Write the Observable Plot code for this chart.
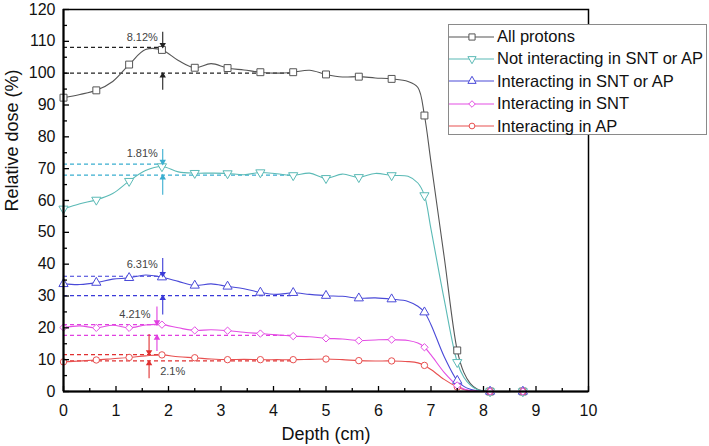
<!DOCTYPE html>
<html>
<head>
<meta charset="utf-8">
<script src="https://cdn.jsdelivr.net/npm/d3@7"></script>
<script src="https://cdn.jsdelivr.net/npm/@observablehq/plot@0.6"></script>
<style>
  html, body { margin: 0; padding: 0; background: #fff; }
  #wrap { position: relative; width: 709px; height: 446px; font-family: "Liberation Sans", Arial, sans-serif; }
  #legend { position: absolute; left: 448px; top: 24px; width: 259px; height: 111px; background: #fff; border: 1px solid #8a8a8a; box-sizing: border-box; }
  .row { position: absolute; left: 0; height: 22px; display: flex; align-items: center; }
  .row span { font-size: 16.5px; color: #111; margin-left: 3px; white-space: nowrap; }
</style>
</head>
<body>
<div id="wrap"></div>
<script>
// ---- data ----
const depth = [0, 0.3125, 0.625, 0.9375, 1.25, 1.5625, 1.875, 2.1875, 2.5, 2.8125, 3.125, 3.4375, 3.75, 4.0625, 4.375, 4.6875, 5, 5.3125, 5.625, 5.9375, 6.25, 6.5625, 6.75, 6.875, 7.0, 7.25, 7.5, 7.625, 7.75, 7.875, 8.0, 8.125, 8.75, 9.3];
const allProtons        = [92.3, 93.3, 94.6, 97.4, 102.7, 107.4, 107.3, 104.0, 101.7, 103.0, 101.6, 101.0, 100.3, 100.0, 100.3, 100.9, 99.6, 98.8, 98.9, 98.5, 98.2, 97.4, 95.5, 86.7, 72.0, 42.4, 12.9, 6.0, 2.5, 0.8, 0.2, 0, 0, 0];
const notInteracting    = [57.4, 59.0, 60.2, 62.2, 66.1, 69.4, 70.7, 69.0, 68.6, 68.6, 68.5, 68.1, 68.8, 68.4, 67.9, 68.6, 67.0, 68.3, 67.3, 68.5, 67.9, 67.6, 65.5, 61.6, 51.0, 29.0, 9.2, 4.5, 2.0, 0.6, 0.1, 0, 0, 0];
const interactingSntAp  = [33.8, 33.6, 34.2, 35.3, 35.7, 36.6, 35.9, 34.6, 33.3, 33.8, 33.0, 32.3, 31.1, 30.5, 31.0, 30.5, 30.1, 29.9, 29.3, 29.4, 29.0, 28.3, 26.8, 24.9, 21.0, 11.0, 3.4, 1.6, 0.7, 0.2, 0, 0, 0, 0];
const interactingSnt    = [20.1, 20.6, 20.0, 20.8, 20.0, 20.9, 21.0, 20.0, 19.2, 19.4, 19.1, 18.6, 18.2, 17.8, 17.4, 17.2, 16.7, 16.5, 16.0, 16.2, 16.3, 16.0, 15.2, 13.9, 11.5, 6.0, 1.9, 0.8, 0.3, 0.1, 0, 0, 0, 0];
const interactingAp     = [9.3, 9.6, 9.9, 10.3, 10.7, 11.2, 11.5, 10.9, 10.6, 10.2, 10.0, 10.1, 10.0, 10.0, 10.0, 10.1, 10.2, 10.0, 9.7, 9.6, 9.6, 9.4, 9.0, 8.2, 6.9, 3.8, 1.4, 0.6, 0.2, 0.05, 0, 0, 0, 0];
const markerDepths = [0, 0.625, 1.25, 1.875, 2.5, 3.125, 3.75, 4.375, 5, 5.625, 6.25, 6.875, 7.5, 8.125, 8.75];

const seriesNames = ["All protons", "Not interacting in SNT or AP", "Interacting in SNT or AP", "Interacting in SNT", "Interacting in AP"];
const seriesValues = [allProtons, notInteracting, interactingSntAp, interactingSnt, interactingAp];
const seriesColors = ["#555555", "#5bbab6", "#4a4ad8", "#e44ee4", "#e85050"];
const seriesSymbols = ["square", "triangle", "triangle", "diamond2", "circle"];
const seriesRotate = [0, 180, 0, 0, 0];
const seriesR = [3.9, 3.4, 3.4, 3.3, 3.2];

// annotation data (per series): upper dashed level, lower dashed level, arrow x, arrow tails, label
const upperLevel = [108.1, 71.4, 36.2, 21.0, 11.6];
const lowerLevel = [100.0, 68.0, 30.1, 17.6, 9.6];
const upperEnd = [1.9, 1.9, 1.9, 1.9, 1.9];
const lowerEnd = [4.35, 4.4, 4.4, 4.4, 4.4];
const arrowX = [1.89, 1.89, 1.89, 1.78, 1.63];
const downFrom = [113.0, 76.2, 41.9, 26.7, 18.1];
const upFrom = [94.8, 61.8, 24.2, 12.7, 4.2];
const pctLabels = ["8.12%", "1.81%", "6.31%", "4.21%", "2.1%"];
const labelX = [1.5, 1.5, 1.5, 1.36, 2.08];
const labelY = [111.3, 74.9, 39.8, 24.3, 6.4];
const annColors = ["#222222", "#3aaed0", "#3a3ad8", "#e040e0", "#e03030"];

const xTicks = d3.range(0, 11, 1);
const xMinor = d3.range(0.5, 10, 1);
const yTicks = d3.range(0, 121, 10);
const yMinor = d3.range(5, 120, 10);

// ---- build tables ----
const lines = [];
seriesNames.forEach((name, s) => depth.forEach((d, i) => lines.push({name, s, depth: d, dose: seriesValues[s][i]})));
const markers = lines.filter(r => markerDepths.includes(r.depth));
const drawOrder = [0, 1, 2, 4, 3];
const ann = seriesNames.map((name, s) => ({s, up: upperLevel[s], low: lowerLevel[s], ue: upperEnd[s], le: lowerEnd[s], ax: arrowX[s], df: downFrom[s], uf: upFrom[s], label: pctLabels[s], lx: labelX[s], ly: labelY[s], color: annColors[s]}));

const marks = [];
// dashed reference lines
marks.push(Plot.ruleY(ann, {y: "up", x1: 0, x2: "ue", stroke: "color", strokeWidth: 1.2, strokeDasharray: "4,3"}));
marks.push(Plot.ruleY(ann, {y: "low", x1: 0, x2: "le", stroke: "color", strokeWidth: 1.2, strokeDasharray: "4,3"}));
// series lines and markers
for (const s of drawOrder) {
  const rows = lines.filter(r => r.s === s);
  marks.push(Plot.line(rows, {x: "depth", y: "dose", stroke: seriesColors[s], strokeWidth: 1.1, curve: "catmull-rom"}));
}
for (const s of drawOrder) {
  const rows = markers.filter(r => r.s === s);
  marks.push(Plot.dot(rows, {x: "depth", y: "dose", symbol: () => seriesSymbols[s], r: seriesR[s], rotate: seriesRotate[s], stroke: seriesColors[s], fill: "white", strokeWidth: 1}));
}
// arrows
marks.push(Plot.link(ann, {x1: "ax", x2: "ax", y1: "df", y2: "up", stroke: "color", strokeWidth: 1.1}));
marks.push(Plot.link(ann, {x1: "ax", x2: "ax", y1: "uf", y2: "low", stroke: "color", strokeWidth: 1.1}));
marks.push(Plot.dot(ann, {x: "ax", y: "up", symbol: "triangle", rotate: 180, r: 2.4, fill: "color", stroke: "none", dy: -2.5}));
marks.push(Plot.dot(ann, {x: "ax", y: "low", symbol: "triangle", r: 2.4, fill: "color", stroke: "none", dy: 2.5}));
// percent labels
marks.push(Plot.text(ann, {x: "lx", y: "ly", text: "label", fill: "#444", fontSize: 11}));
// frame & axes
marks.push(Plot.frame({stroke: "black", strokeWidth: 1.5}));
marks.push(Plot.ruleX([0], {stroke: "black", strokeWidth: 2}));
marks.push(Plot.ruleY([0], {stroke: "black", strokeWidth: 2}));
marks.push(Plot.axisX({ticks: xTicks, tickSize: -5, tickPadding: 18, tickFormat: d3.format("d"), fontSize: 16, label: null, stroke: "black", strokeWidth: 1.3}));
marks.push(Plot.axisX({ticks: xMinor, tickSize: -3, text: null, label: null, stroke: "black", strokeWidth: 1.3}));
marks.push(Plot.axisY({ticks: yTicks, tickSize: -6, tickPadding: 14, tickFormat: d3.format("d"), fontSize: 16, label: null, stroke: "black", strokeWidth: 1.3}));
marks.push(Plot.axisY({ticks: yMinor, tickSize: -4, text: null, label: null, stroke: "black", strokeWidth: 1.3}));
marks.push(Plot.text(["Depth (cm)"], {frameAnchor: "bottom", dy: 48, fontSize: 18, fill: "#111"}));
marks.push(Plot.text(["Relative dose (%)"], {frameAnchor: "left", dx: -51, dy: 11, rotate: -90, fontSize: 18, fill: "#111"}));

const chart = Plot.plot({
  width: 709,
  height: 446,
  marginLeft: 63,
  marginRight: 121,
  marginTop: 9,
  marginBottom: 55,
  x: {domain: [0, 10]},
  y: {domain: [0, 120]},
  style: {fontFamily: "'Liberation Sans', Arial, sans-serif", background: "white", color: "#111", overflow: "visible"},
  marks
});
const wrap = document.getElementById("wrap");
wrap.appendChild(chart);

// ---- legend ----
const legend = document.createElement("div");
legend.id = "legend";
const ns = "http://www.w3.org/2000/svg";
const d3Symbols = {square: d3.symbolSquare, triangle: d3.symbolTriangle, diamond2: d3.symbolDiamond2, circle: d3.symbolCircle};
seriesNames.forEach((name, s) => {
  const row = document.createElement("div");
  row.className = "row";
  row.style.top = (0.5 + s * 22.4) + "px";
  const svg = document.createElementNS(ns, "svg");
  svg.setAttribute("width", 45); svg.setAttribute("height", 22);
  const ln = document.createElementNS(ns, "line");
  ln.setAttribute("x1", 0); ln.setAttribute("x2", 45); ln.setAttribute("y1", 11); ln.setAttribute("y2", 11);
  ln.setAttribute("stroke", seriesColors[s]); ln.setAttribute("stroke-width", 1.1);
  svg.appendChild(ln);
  const p = document.createElementNS(ns, "path");
  p.setAttribute("d", d3.symbol(d3Symbols[seriesSymbols[s]], Math.PI * seriesR[s] * seriesR[s] * 0.8)());
  p.setAttribute("transform", `translate(23,11) rotate(${seriesRotate[s]})`);
  p.setAttribute("fill", "white"); p.setAttribute("stroke", seriesColors[s]);
  svg.appendChild(p);
  row.appendChild(svg);
  const t = document.createElement("span");
  t.textContent = name;
  row.appendChild(t);
  legend.appendChild(row);
});
wrap.appendChild(legend);
</script>
</body>
</html>
